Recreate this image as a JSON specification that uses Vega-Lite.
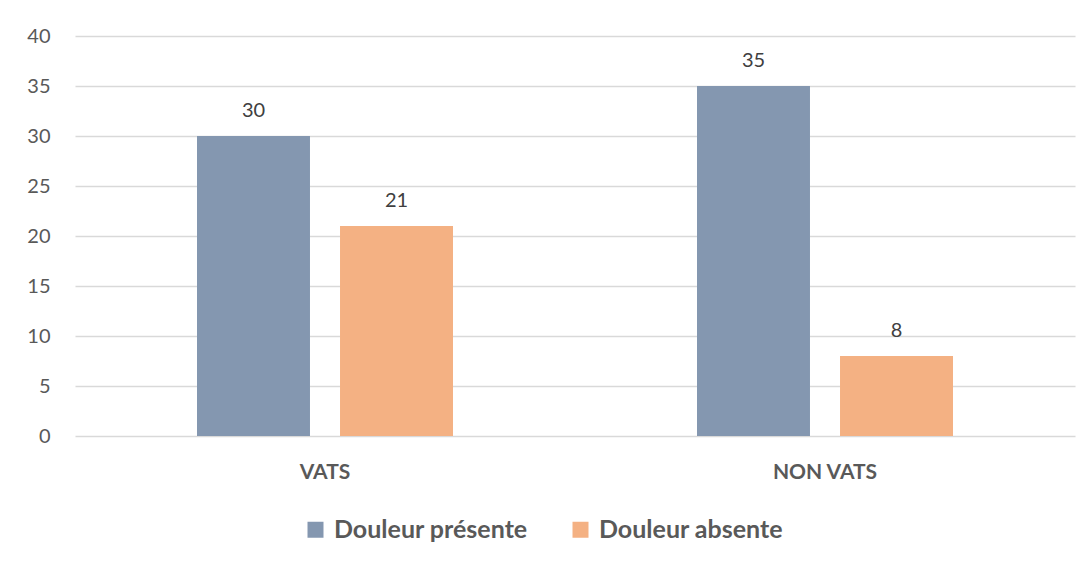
{
  "$schema": "https://vega.github.io/schema/vega-lite/v6.json",
  "width": 1000,
  "height": 400,
  "autosize": {"type": "none"},
  "padding": {"left": 75, "top": 36, "right": 16, "bottom": 130},
  "background": "white",
  "config": {
    "font": "Lato",
    "view": {"stroke": null}
  },
  "data": {
    "values": [
      {"groupe": "VATS", "douleur": "Douleur présente", "n": 30},
      {"groupe": "VATS", "douleur": "Douleur absente", "n": 21},
      {"groupe": "NON VATS", "douleur": "Douleur présente", "n": 35},
      {"groupe": "NON VATS", "douleur": "Douleur absente", "n": 8}
    ]
  },
  "encoding": {
    "x": {
      "field": "groupe",
      "type": "nominal",
      "sort": ["VATS", "NON VATS"],
      "scale": {"paddingInner": 0.488, "paddingOuter": 0.244},
      "axis": {
        "title": null,
        "labelAngle": 0,
        "domain": false,
        "ticks": false,
        "labelFontSize": 21,
        "labelFontWeight": "bold",
        "labelColor": "#595959",
        "labelPadding": 25
      }
    },
    "xOffset": {
      "field": "douleur",
      "type": "nominal",
      "sort": ["Douleur présente", "Douleur absente"],
      "scale": {"paddingInner": 0.21, "paddingOuter": 0}
    },
    "y": {
      "field": "n",
      "type": "quantitative",
      "scale": {"domain": [0, 40]},
      "axis": {
        "title": null,
        "values": [0, 5, 10, 15, 20, 25, 30, 35, 40],
        "domain": false,
        "ticks": false,
        "labelFontSize": 20,
        "labelColor": "#595959",
        "labelPadding": 25,
        "gridColor": "#d9d9d9",
        "gridWidth": 1.5
      }
    }
  },
  "layer": [
    {
      "mark": {"type": "bar"},
      "encoding": {
        "color": {
          "field": "douleur",
          "type": "nominal",
          "sort": ["Douleur présente", "Douleur absente"],
          "scale": {"domain": ["Douleur présente", "Douleur absente"], "range": ["#8497B0", "#F4B183"]},
          "legend": {
            "title": null,
            "orient": "none",
            "legendX": 228,
            "legendY": 481,
            "direction": "horizontal",
            "symbolType": "square",
            "symbolSize": 256,
            "symbolStrokeWidth": 0,
            "labelFontSize": 25,
            "labelFontWeight": "bold",
            "labelColor": "#595959",
            "labelLimit": 400,
            "columnPadding": 40,
            "labelOffset": 6
          }
        }
      }
    },
    {
      "mark": {"type": "text", "baseline": "alphabetic", "dy": -19, "fontSize": 20, "color": "#404040"},
      "encoding": {
        "text": {"field": "n", "type": "quantitative"}
      }
    }
  ]
}
